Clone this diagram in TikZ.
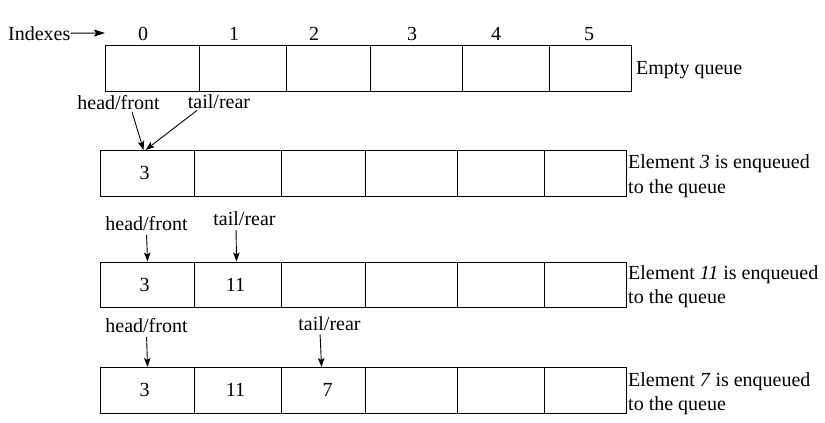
\documentclass[tikz,border=0pt]{standalone}
\usepackage{fontspec}
\setmainfont{Liberation Serif}
\usetikzlibrary{arrows.meta}

\begin{document}
\begin{tikzpicture}[x=1pt,y=-1pt,
    cell/.style={draw,line width=1.1pt,inner sep=0pt,minimum height=45.5pt,anchor=north west},
    lbl/.style={inner sep=2pt,font=\fontsize{20}{25}\selectfont},
    val/.style={inner sep=0pt,font=\fontsize{20}{25}\selectfont},
    ptr/.style={line width=0.9pt,-{Stealth[length=9pt,width=6.5pt,inset=2pt]}}]
            \useasboundingbox (0,0) rectangle (825,423);
            \foreach \row/\dx/\ytop in {q0/5/45,q1/0/150,q2/0/261.5,q3/0/367}{
                \foreach \i/\a/\b in {0/100/194,1/194/281,2/281/365,3/365/457,4/457/544,5/544/626}
                    \node[cell,minimum width={\b-\a}] (\row c\i) at (\a+\dx,\ytop) {};
            }

            \node[lbl,inner sep=0pt,anchor=base west] (idx) at (8,40) {Indexes};
            \coordinate (idxend) at (105,33);
            \draw[line width=0.9pt,-{Stealth[length=11pt,width=7pt,inset=2pt]}] (idx.east) -- (idxend);
            \foreach \i/\x in {0/143,1/234,2/314,3/412,4/496,5/589}
                \node[lbl,anchor=base] (ix\i) at (\x,40) {\i};

            \node[lbl,inner sep=0pt,anchor=base west] (d0) at (636,74) {Empty queue};

            \node[val] (v1a) at ([xshift=-3pt]q1c0) {3};
            \node[lbl,anchor=base] (hf1) at (118.5,109.5) {head/front};
            \node[lbl,anchor=base] (tr1) at (219,108) {tail/rear};
            \draw[ptr] ([xshift=13.5pt]hf1.south) -- ([xshift=-4pt]q1c0.north);
            \draw[ptr] ([xshift=-22pt]tr1.south) -- ([xshift=-2pt]q1c0.north);
            \node[lbl,inner sep=0pt,anchor=base west] (d1a) at (628,168.5) {Element \textit{3} is enqueued};
            \node[lbl,inner sep=0pt,anchor=base west] (d1b) at (628,193) {to the queue};

            \node[val] (v2a) at ([xshift=-3pt]q2c0) {3};
            \node[val] (v2b) at ([xshift=-2.5pt]q2c1) {11};
            \node[lbl,anchor=base] (hf2) at (146.5,230.5) {head/front};
            \node[lbl,anchor=base] (tr2) at (244.5,225.5) {tail/rear};
            \draw[ptr,shorten <=2pt] (hf2.south) -- (q2c0.north);
            \draw[ptr,shorten <=2pt] ([xshift=-8.5pt]tr2.south) -- ([xshift=-1.5pt]q2c1.north);
            \node[lbl,inner sep=0pt,anchor=base west] (d2a) at (628,279) {Element \textit{11} is enqueued};
            \node[lbl,inner sep=0pt,anchor=base west] (d2b) at (628,303.5) {to the queue};

            \node[val] (v3a) at ([xshift=-3pt]q3c0) {3};
            \node[val] (v3b) at ([xshift=-2.5pt]q3c1) {11};
            \node[val] (v3c) at ([xshift=4pt]q3c2) {7};
            \node[lbl,anchor=base] (hf3) at (146.5,332.5) {head/front};
            \node[lbl,anchor=base] (tr3) at (329.5,330) {tail/rear};
            \draw[ptr,shorten <=2pt] (hf3.south) -- (q3c0.north);
            \draw[ptr,shorten <=2pt] ([xshift=-9.5pt]tr3.south) -- ([xshift=-2pt]q3c2.north);
            \node[lbl,inner sep=0pt,anchor=base west] (d3a) at (628,386) {Element \textit{7} is enqueued};
            \node[lbl,inner sep=0pt,anchor=base west] (d3b) at (628,410.5) {to the queue};
        \end{tikzpicture}
\end{document}
